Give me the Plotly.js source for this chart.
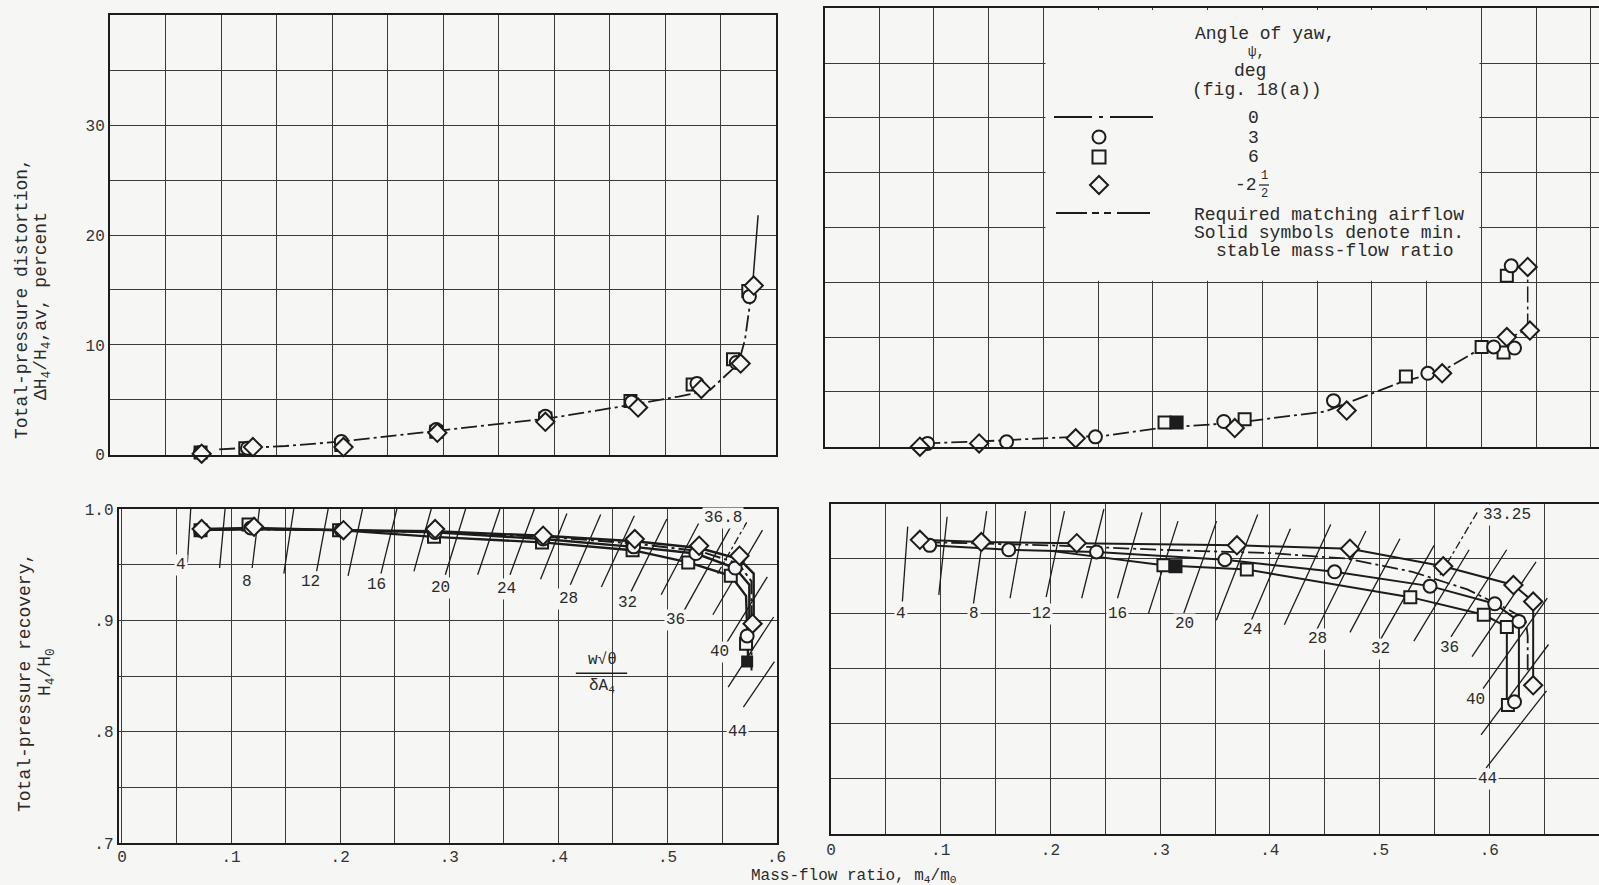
<!DOCTYPE html>
<html><head><meta charset="utf-8">
<script src="https://cdn.plot.ly/plotly-3.0.1.min.js"></script>
<style>html,body{margin:0;padding:0;background:#f6f6f4;}#plot{width:1599px;height:885px;}</style>
</head><body><div id="plot"></div>
<script>
// ===== Top-left: total-pressure distortion =====
const tlCircleX = [0.072,0.115,0.201,0.288,0.388,0.467,0.527,0.563,0.575];
const tlCircleY = [0.2,0.6,1.2,2.3,3.5,4.8,6.5,8.4,14.4];
const tlSquareX = [0.072,0.113,0.201,0.288,0.388,0.466,0.523,0.560,0.574];
const tlSquareY = [0.2,0.6,0.9,2.1,3.3,4.9,6.4,8.7,14.9];
const tlDiamondX = [0.073,0.120,0.203,0.289,0.388,0.473,0.531,0.567,0.579];
const tlDiamondY = [0.1,0.7,0.7,2.0,3.0,4.3,6.0,8.3,15.4];
const tlCurveX = [0.089,0.15,0.2,0.29,0.39,0.47,0.51,0.539,0.565,0.571,0.575,0.578];
const tlCurveY = [0.5,0.8,1.2,2.2,3.3,4.6,5.3,5.9,8.3,10.5,13.5,15.5];
const tlTailX = [0.578,0.580,0.583];
const tlTailY = [15.5,18,21.8];

// ===== Top-right: total-pressure distortion =====
const trCircleX = [0.088,0.160,0.241,0.358,0.458,0.544,0.604,0.623,0.620];
const trCircleY = [0.3,0.45,0.9,2.3,4.2,6.7,9.1,9.0,16.5];
const trSquareX = [0.304,0.377,0.524,0.593,0.613,0.616];
const trSquareY = [2.2,2.5,6.4,9.1,8.6,15.6];
const trSquareSolidX = [0.315];
const trSquareSolidY = [2.2];
const trDiamondX = [0.081,0.135,0.223,0.368,0.470,0.557,0.616,0.637,0.635];
const trDiamondY = [0.0,0.3,0.76,1.7,3.3,6.7,10.0,10.6,16.4];
const trCurveX = [0.085,0.14,0.2,0.25,0.3,0.37,0.45,0.52,0.557,0.593,0.62,0.634];
const trCurveY = [0.3,0.5,0.8,1.0,1.7,2.2,3.2,5.9,6.9,9.0,10.0,10.7];
const trVertX = [0.635,0.635];
const trVertY = [10.7,16.8];

// ===== Bottom-left: total-pressure recovery =====
const blCircleX = [0.072,0.118,0.201,0.287,0.386,0.469,0.526,0.562,0.573];
const blCircleY = [0.981,0.983,0.981,0.979,0.973,0.966,0.960,0.947,0.886];
const blSquareX = [0.072,0.116,0.199,0.286,0.385,0.468,0.519,0.558,0.572];
const blSquareY = [0.981,0.986,0.981,0.975,0.970,0.963,0.952,0.940,0.879];
const blSquareSolidX = [0.573];
const blSquareSolidY = [0.863];
const blDiamondX = [0.073,0.121,0.203,0.287,0.386,0.470,0.529,0.566,0.578];
const blDiamondY = [0.982,0.984,0.981,0.982,0.976,0.973,0.967,0.958,0.897];
const blDiamondLineX = [0.073,0.121,0.203,0.287,0.386,0.470,0.529,0.566,0.579,0.579];
const blDiamondLineY = [0.982,0.983,0.981,0.980,0.976,0.971,0.965,0.955,0.942,0.897];
const blCircleLineX = [0.072,0.118,0.201,0.287,0.386,0.469,0.526,0.562,0.575,0.575];
const blCircleLineY = [0.981,0.982,0.981,0.979,0.973,0.966,0.960,0.947,0.932,0.886];
const blSquareLineX = [0.072,0.116,0.199,0.286,0.385,0.468,0.519,0.558,0.572,0.574];
const blSquareLineY = [0.981,0.982,0.981,0.975,0.970,0.963,0.952,0.940,0.922,0.862];
const blZeroLineX = [0.09,0.2,0.29,0.39,0.47,0.53,0.565,0.577,0.577];
const blZeroLineY = [0.982,0.981,0.979,0.975,0.969,0.962,0.951,0.935,0.855];
// corrected-airflow lines w*sqrt(theta)/(delta*A4)
const blW = [4,6,8,10,12,14,16,18,20,22,24,26,28,30,32,34,36,38,40,42,44];
const blWTop = [1,1,1,1,1,1,1,1,1,1,1,0.996,0.995,0.994,0.991,0.987,0.984,0.981,0.939,0.903,0.863];
const blWBot = [0.952,0.947,0.947,0.942,0.944,0.940,0.942,0.944,0.941,0.941,0.941,0.937,0.932,0.930,0.926,0.923,0.902,0.905,0.873,0.840,0.822];
const blK = 63.5;
const blReqW = [36.8];
const blReqTop = [0.988];
const blReqBot = [0.94];
const blLabText = ['4','8','12','16','20','24','28','32','36','36.8','40','44'];
const blLabX = [0.054,0.115,0.173,0.233,0.292,0.352,0.409,0.463,0.507,0.551,0.548,0.564];
const blLabY = [0.95,0.934,0.934,0.932,0.929,0.928,0.919,0.916,0.90,0.992,0.872,0.80];

// ===== Bottom-right: total-pressure recovery =====
const brCircleX = [0.090,0.162,0.242,0.359,0.459,0.546,0.605,0.627,0.623];
const brCircleY = [0.962,0.958,0.956,0.949,0.938,0.925,0.909,0.893,0.820];
const brSquareX = [0.303,0.379,0.528,0.595,0.616,0.617];
const brSquareY = [0.944,0.940,0.915,0.899,0.888,0.817];
const brSquareSolidX = [0.314];
const brSquareSolidY = [0.943];
const brDiamondX = [0.081,0.137,0.224,0.370,0.473,0.558,0.622,0.640,0.640];
const brDiamondY = [0.967,0.965,0.964,0.962,0.959,0.943,0.926,0.911,0.835];
const brDiamondLineX = [0.081,0.137,0.224,0.370,0.473,0.558,0.622,0.640,0.640];
const brDiamondLineY = [0.967,0.965,0.964,0.962,0.959,0.943,0.926,0.911,0.835];
const brCircleLineX = [0.090,0.162,0.242,0.359,0.459,0.546,0.605,0.627,0.627];
const brCircleLineY = [0.962,0.958,0.956,0.949,0.938,0.925,0.909,0.893,0.820];
const brSquareLineX = [0.20,0.303,0.379,0.528,0.595,0.616,0.616];
const brSquareLineY = [0.957,0.944,0.940,0.915,0.899,0.888,0.817];
const brZeroLineX = [0.085,0.2,0.3,0.4,0.47,0.53,0.58,0.615,0.633,0.635,0.635];
const brZeroLineY = [0.965,0.962,0.958,0.955,0.950,0.938,0.922,0.905,0.895,0.88,0.845];
const brW = [4,6,8,10,12,14,16,18,20,22,24,26,28,30,32,34,36,38,40,42,44];
const brWTop = [0.979,0.988,0.993,0.993,0.993,0.995,0.992,0.984,0.984,0.990,0.977,0.981,0.975,0.968,0.962,0.958,0.958,0.947,0.914,0.872,0.830];
const brWBot = [0.911,0.917,0.903,0.914,0.915,0.914,0.914,0.900,0.900,0.894,0.890,0.890,0.885,0.883,0.876,0.875,0.879,0.861,0.832,0.790,0.760];
const brK = 56;
const brReqW = [33.25];
const brReqTop = [0.992];
const brReqBot = [0.935];
const brLabText = ['4','8','12','16','20','24','28','32','33.25','36','40','44'];
const brLabX = [0.064,0.130,0.192,0.261,0.322,0.384,0.443,0.501,0.616,0.564,0.587,0.598];
const brLabY = [0.90,0.90,0.90,0.90,0.891,0.885,0.877,0.868,0.990,0.869,0.822,0.75];

// tick labels
const xTickVals = [0,0.1,0.2,0.3,0.4,0.5,0.6];
const xTickText = ['0','.1','.2','.3','.4','.5','.6'];
const yTopVals = [0,10,20,30];
const yTopText = ['0','10','20','30'];
const yBotVals = [0.7,0.8,0.9,1.0];
const yBotText = ['.7','.8','.9','1.0'];

// ===== styling =====
const PAPER = '#f6f6f4', INK = '#1c1c1c', GRID = '#3a3a3a';
const FONT = 'Liberation Mono, Courier New, monospace';

function lineTr(x, y, ax, dash, w) {
  return {type:'scatter', mode:'lines', x:x, y:y, xaxis:'x'+ax, yaxis:'y'+ax,
    line:{color:INK, width:w||2, dash:dash||'solid'}, hoverinfo:'skip', showlegend:false, cliponaxis:false};
}
function mkTr(x, y, ax, sym, size, filled) {
  return {type:'scatter', mode:'markers', x:x, y:y, xaxis:'x'+ax, yaxis:'y'+ax,
    marker:{symbol:sym, size:size, color:filled?INK:PAPER, line:{color:INK, width:2}},
    hoverinfo:'skip', showlegend:false, cliponaxis:false};
}
function wTr(Ws, tops, bots, k, ax, dash) {
  const xs = [], ys = [];
  Ws.forEach(function(w, i){ xs.push(tops[i]*w/k, bots[i]*w/k, null); ys.push(tops[i], bots[i], null); });
  return lineTr(xs, ys, ax, dash, 1.3);
}
const DASHDOT = '16px,4px,3px,4px';

const traces = [
  // top-left
  lineTr(tlCurveX, tlCurveY, '', DASHDOT, 1.8),
  lineTr(tlTailX, tlTailY, '', 'solid', 1.5),
  mkTr(tlSquareX, tlSquareY, '', 'square', 12),
  mkTr(tlCircleX, tlCircleY, '', 'circle', 13),
  mkTr(tlDiamondX, tlDiamondY, '', 'diamond', 14),
  // top-right
  lineTr(trCurveX, trCurveY, '2', DASHDOT, 1.8),
  lineTr(trVertX, trVertY, '2', DASHDOT, 1.5),
  mkTr(trSquareX, trSquareY, '2', 'square', 12),
  mkTr(trSquareSolidX, trSquareSolidY, '2', 'square', 12, true),
  mkTr(trCircleX, trCircleY, '2', 'circle', 13),
  mkTr(trDiamondX, trDiamondY, '2', 'diamond', 14),
  // bottom-left
  wTr(blW, blWTop, blWBot, blK, '3'),
  wTr(blReqW, blReqTop, blReqBot, blK, '3', '8px,3px,3px,3px'),
  lineTr(blZeroLineX, blZeroLineY, '3', DASHDOT, 2),
  lineTr(blSquareLineX, blSquareLineY, '3', 'solid', 2.4),
  lineTr(blCircleLineX, blCircleLineY, '3', 'solid', 2.4),
  lineTr(blDiamondLineX, blDiamondLineY, '3', 'solid', 2.4),
  mkTr(blSquareX, blSquareY, '3', 'square', 12),
  mkTr(blSquareSolidX, blSquareSolidY, '3', 'square', 10, true),
  mkTr(blCircleX, blCircleY, '3', 'circle', 13),
  mkTr(blDiamondX, blDiamondY, '3', 'diamond', 14),
  // bottom-right
  wTr(brW, brWTop, brWBot, brK, '4'),
  wTr(brReqW, brReqTop, brReqBot, brK, '4', '8px,3px,3px,3px'),
  lineTr(brZeroLineX, brZeroLineY, '4', DASHDOT, 1.8),
  lineTr(brSquareLineX, brSquareLineY, '4', 'solid', 2),
  lineTr(brCircleLineX, brCircleLineY, '4', 'solid', 2),
  lineTr(brDiamondLineX, brDiamondLineY, '4', 'solid', 2),
  mkTr(brSquareX, brSquareY, '4', 'square', 12),
  mkTr(brSquareSolidX, brSquareSolidY, '4', 'square', 12, true),
  mkTr(brCircleX, brCircleY, '4', 'circle', 13),
  mkTr(brDiamondX, brDiamondY, '4', 'diamond', 14)
];

function ax(o) {
  return Object.assign({showgrid:true, gridcolor:GRID, gridwidth:1, zeroline:false, showline:true,
    linecolor:INK, linewidth:2, mirror:true, ticks:'', fixedrange:true,
    tickfont:{family:FONT, size:16, color:'#333'}}, o);
}
function minor(t0, dt) {
  return {tickmode:'linear', tick0:t0, dtick:dt, showgrid:true, gridcolor:GRID, gridwidth:1, ticks:''};
}

const W = 1599, H = 885;
function px(x){ return x/W; }
function py(y){ return 1 - y/H; }

const annotations = [];
function addText(t, x, y, size, opts) {
  annotations.push(Object.assign({text:t, x:px(x), y:py(y), xref:'paper', yref:'paper', showarrow:false,
    xanchor:'center', yanchor:'middle', font:{family:FONT, size:size||18, color:'#2a2a2a'}}, opts||{}));
}
// axis titles
addText('Total-pressure distortion,', 22, 299, 18, {textangle:-90});
addText('ΔH<sub>4</sub>/H<sub>4</sub>,av, percent', 42, 306, 18, {textangle:-90});
addText('Total-pressure recovery,', 25, 683, 18, {textangle:-90});
addText('H<sub>4</sub>/H<sub>0</sub>', 46, 672, 18, {textangle:-90});
addText('Mass-flow ratio, m<sub>4</sub>/m<sub>0</sub>', 854, 876, 16);
// legend texts
addText('Angle of yaw,', 1265, 34, 18);
addText('ψ,', 1256, 52, 14);
addText('deg', 1250, 71, 18);
addText('(fig. 18(a))', 1257, 90, 18);
addText('0', 1253, 118, 18);
addText('3', 1253, 138, 18);
addText('6', 1253, 157, 18);
addText('-2', 1246, 185, 18);
addText('1', 1264, 176, 12);
addText('2', 1264, 194, 12);
addText('Required matching airflow', 1329, 215, 18);
addText('Solid symbols denote min.', 1329, 233, 18);
addText('stable mass-flow ratio', 1335, 251, 18);
// corrected-airflow labels
blLabText.forEach(function(t, i){
  annotations.push({text:t, x:blLabX[i], y:blLabY[i], xref:'x3', yref:'y3', showarrow:false,
    bgcolor:PAPER, borderpad:1, font:{family:FONT, size:16, color:'#2a2a2a'}});
});
brLabText.forEach(function(t, i){
  annotations.push({text:t, x:brLabX[i], y:brLabY[i], xref:'x4', yref:'y4', showarrow:false,
    bgcolor:PAPER, borderpad:1, font:{family:FONT, size:16, color:'#2a2a2a'}});
});
annotations.push({text:'w√θ', x:0.44, y:0.864, xref:'x3', yref:'y3', showarrow:false,
  font:{family:FONT, size:16, color:'#2a2a2a'}});
annotations.push({text:'δA<sub>4</sub>', x:0.44, y:0.841, xref:'x3', yref:'y3', showarrow:false,
  font:{family:FONT, size:16, color:'#2a2a2a'}});

const shapes = [
  // legend blank area in top-right panel
  {type:'rect', xref:'x2', yref:'y2', x0:0.1955, x1:0.5910, y0:15.15, y1:39.85,
    fillcolor:PAPER, line:{width:0}, layer:'above'},
  // fraction bar of w sqrt(theta)/(delta A4)
  {type:'line', xref:'x3', yref:'y3', x0:0.416, x1:0.463, y0:0.8525, y1:0.8525, line:{color:INK, width:1.5}},
  // fraction bar in -2 1/2
  {type:'line', xref:'paper', yref:'paper', x0:px(1259), x1:px(1269), y0:py(185), y1:py(185), line:{color:INK, width:1.2}, layer:'above'},
  // legend: 0 deg dash-dot sample
  {type:'line', xref:'paper', yref:'paper', x0:px(1054), x1:px(1092), y0:py(117), y1:py(117), line:{color:INK, width:2}, layer:'above'},
  {type:'line', xref:'paper', yref:'paper', x0:px(1099), x1:px(1103), y0:py(117), y1:py(117), line:{color:INK, width:2}, layer:'above'},
  {type:'line', xref:'paper', yref:'paper', x0:px(1110), x1:px(1153), y0:py(117), y1:py(117), line:{color:INK, width:2}, layer:'above'},
  // legend: required airflow dashed sample
  {type:'line', xref:'paper', yref:'paper', x0:px(1056), x1:px(1087), y0:py(213), y1:py(213), line:{color:INK, width:2}, layer:'above'},
  {type:'line', xref:'paper', yref:'paper', x0:px(1092), x1:px(1099), y0:py(213), y1:py(213), line:{color:INK, width:2}, layer:'above'},
  {type:'line', xref:'paper', yref:'paper', x0:px(1104), x1:px(1111), y0:py(213), y1:py(213), line:{color:INK, width:2}, layer:'above'},
  {type:'line', xref:'paper', yref:'paper', x0:px(1117), x1:px(1150), y0:py(213), y1:py(213), line:{color:INK, width:2}, layer:'above'},
  // legend symbols
  {type:'circle', xref:'paper', yref:'paper', xsizemode:'pixel', ysizemode:'pixel', xanchor:px(1099), yanchor:py(137),
    x0:-6.5, x1:6.5, y0:-6.5, y1:6.5, line:{color:INK, width:2}, fillcolor:PAPER, layer:'above'},
  {type:'rect', xref:'paper', yref:'paper', xsizemode:'pixel', ysizemode:'pixel', xanchor:px(1099), yanchor:py(157),
    x0:-6.5, x1:6.5, y0:-6.5, y1:6.5, line:{color:INK, width:2}, fillcolor:PAPER, layer:'above'},
  {type:'path', xref:'paper', yref:'paper', xsizemode:'pixel', ysizemode:'pixel', xanchor:px(1099), yanchor:py(185),
    path:'M 0 9 L 9 0 L 0 -9 L -9 0 Z', line:{color:INK, width:2}, fillcolor:PAPER, layer:'above'}
];

const layout = {
  width:W, height:H, margin:{l:0, r:0, t:0, b:0},
  paper_bgcolor:PAPER, plot_bgcolor:PAPER, showlegend:false,
  font:{family:FONT, color:'#2a2a2a'},
  xaxis: ax({domain:[110/W, 776/W], range:[-0.011,0.5994], tickmode:'linear', tick0:-0.011, dtick:0.05087,
    showticklabels:false, anchor:'y'}),
  yaxis: ax({domain:[py(454.8), py(15.3)], range:[0,40], tickmode:'array', tickvals:yTopVals, ticktext:yTopText,
    minor:minor(0,5), anchor:'x'}),
  xaxis2: ax({domain:[825/W, 1], range:[-0.0055,0.7], tickmode:'linear', tick0:0.0438, dtick:0.0499,
    showticklabels:false, anchor:'y2'}),
  yaxis2: ax({domain:[py(446.7), py(8.3)], range:[0,40], tickmode:'linear', tick0:0, dtick:5,
    showticklabels:false, anchor:'x2'}),
  xaxis3: ax({domain:[118.7/W, 776.6/W], range:[-0.003,0.6], tickmode:'array', tickvals:xTickVals,
    ticktext:xTickText, minor:minor(0,0.05), ticklabelstandoff:-2, anchor:'y3'}),
  yaxis3: ax({domain:[py(843), py(509)], range:[0.7,1.0], tickmode:'array', tickvals:yBotVals, ticktext:yBotText,
    minor:minor(0.7,0.05), anchor:'x3'}),
  xaxis4: ax({domain:[831/W, 1], range:[0,0.7], tickmode:'array', tickvals:xTickVals, ticktext:xTickText,
    minor:minor(0,0.05), anchor:'y4'}),
  yaxis4: ax({domain:[py(834), py(503.5)], range:[0.7,1.0], tickmode:'linear', tick0:0.7, dtick:0.05,
    showticklabels:false, anchor:'x4'}),
  annotations:annotations, shapes:shapes
};

Plotly.newPlot('plot', traces, layout, {staticPlot:true, displayModeBar:false});
</script>
</body></html>
